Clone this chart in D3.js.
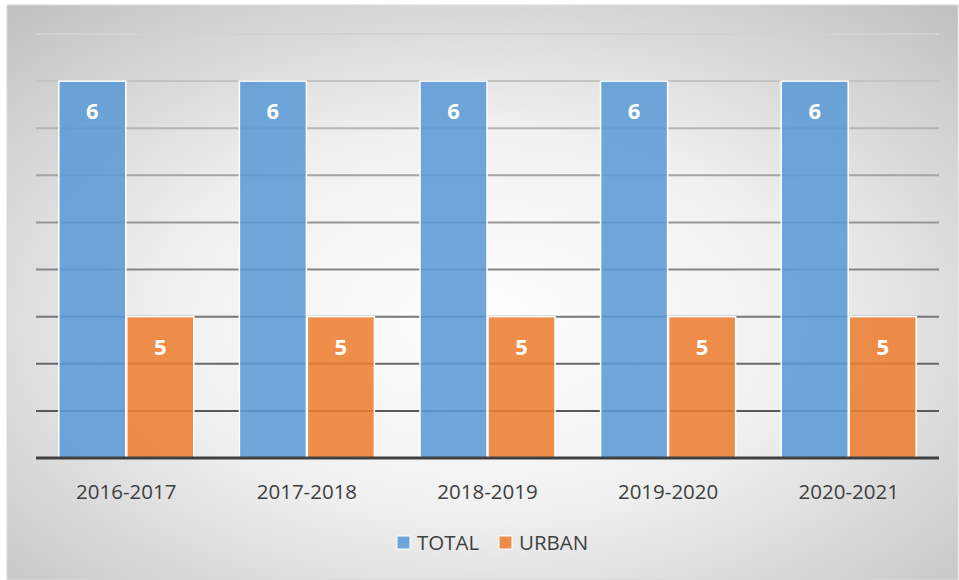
<!DOCTYPE html>
<html>
<head>
<meta charset="utf-8">
<script src="https://cdn.jsdelivr.net/npm/d3@7/dist/d3.min.js"></script>
<style>
  html, body { margin: 0; padding: 0; background: #fff; }
  svg { display: block; font-family: "Open Sans", "Noto Sans", sans-serif; }
</style>
</head>
<body>
<svg id="chart" width="959" height="580"></svg>
<script>
// Yearly counts per period
const periods = ["2016-2017", "2017-2018", "2018-2019", "2019-2020", "2020-2021"];
const totalValues = [6, 6, 6, 6, 6];
const urbanValues = [5, 5, 5, 5, 5];
const seriesNames = ["TOTAL", "URBAN"];
const seriesColors = ["#5b9bd5", "#ed7d31"];
const gridTicks = [4.6, 4.8, 5.0, 5.2, 5.4, 5.6, 5.8, 6.0, 6.2];
const yMin = 4.4, yMax = 6.2;

const svg = d3.select("#chart");
const W = 959, H = 580;
const margin = { left: 36, right: 20, top: 34, bottom: 122 };
const plotRight = W - margin.right;   // 939
const plotBottom = H - margin.bottom; // 458
const fontStack = "'Open Sans', 'Noto Sans', sans-serif";

// Chart area background: soft radial shading
const defs = svg.append("defs");
const rg = defs.append("radialGradient").attr("id", "bg")
  .attr("cx", "50%").attr("cy", "55%").attr("r", "75%");
rg.append("stop").attr("offset", "0%").attr("stop-color", "#ffffff");
rg.append("stop").attr("offset", "45%").attr("stop-color", "#f0f0f0");
rg.append("stop").attr("offset", "100%").attr("stop-color", "#bfbfbf");

svg.append("rect").attr("x", 7).attr("y", 5).attr("width", 951).attr("height", 575)
  .attr("fill", "url(#bg)").attr("stroke", "#d9d9d9").attr("stroke-width", 1);

const x0 = d3.scaleBand().domain(periods).range([margin.left, plotRight]).paddingInner(0.247).paddingOuter(0.1235);
const x1 = d3.scaleBand().domain(seriesNames).range([0, x0.bandwidth()]).padding(0);
const y = d3.scaleLinear().domain([yMin, yMax]).range([plotBottom, margin.top]);

// Gridlines: lighter toward the top
const gridShade = d3.scaleLinear().domain([yMin, yMax]).range(["#4a4a4a", "#d2d2d2"]);
svg.append("g").selectAll("line").data(gridTicks).join("line")
  .attr("x1", margin.left).attr("x2", plotRight)
  .attr("y1", d => y(d)).attr("y2", d => y(d))
  .attr("stroke", d => gridShade(d)).attr("stroke-width", 2);

const rows = periods.map((p, i) => ({ period: p, values: [totalValues[i], urbanValues[i]] }));

const groups = svg.append("g").selectAll("g").data(rows).join("g")
  .attr("transform", d => `translate(${x0(d.period)},0)`);

groups.selectAll("rect").data(d => d.values.map((v, k) => ({ key: seriesNames[k], v, k })))
  .join("rect")
  .attr("x", d => x1(d.key) + 0.5)
  .attr("y", d => y(d.v))
  .attr("width", x1.bandwidth() - 1)
  .attr("height", d => plotBottom - y(d.v))
  .attr("fill", d => seriesColors[d.k])
  .attr("fill-opacity", 0.88)
  .attr("stroke", "#ffffff").attr("stroke-width", 1.5);

// Value labels inside the bars
groups.selectAll("text").data(d => d.values.map((v, k) => ({ key: seriesNames[k], v, k })))
  .join("text")
  .attr("x", d => x1(d.key) + x1.bandwidth() / 2)
  .attr("y", d => y(d.v) + 38)
  .attr("text-anchor", "middle")
  .attr("fill", "#ffffff").attr("font-weight", "bold").attr("font-size", 22)
  .attr("font-family", fontStack)
  .text(d => d.v);

// Baseline axis with category labels
const xAxis = svg.append("g").attr("transform", `translate(0,${plotBottom})`)
  .call(d3.axisBottom(x0).tickSize(0));
xAxis.select(".domain").attr("stroke", "#404040").attr("stroke-width", 3)
  .attr("d", `M${margin.left},0H${plotRight}`);
xAxis.selectAll("text").attr("y", 41).attr("dy", null)
  .attr("font-size", 20.5).attr("fill", "#404040")
  .attr("font-family", fontStack);

// Legend
const legend = svg.append("g").attr("transform", "translate(397,550)");
const legendX = [0, 102];
seriesNames.forEach((name, k) => {
  const g = legend.append("g").attr("transform", `translate(${legendX[k]},0)`);
  g.append("rect").attr("x", 0).attr("y", -14).attr("width", 13).attr("height", 13)
    .attr("fill", seriesColors[k]).attr("fill-opacity", 0.88)
    .attr("stroke", "#fff").attr("stroke-width", 1);
  g.append("text").attr("x", 20).attr("y", 0).attr("font-size", 20.5).attr("fill", "#404040")
    .attr("font-family", fontStack)
    .text(name);
});
</script>
</body>
</html>
